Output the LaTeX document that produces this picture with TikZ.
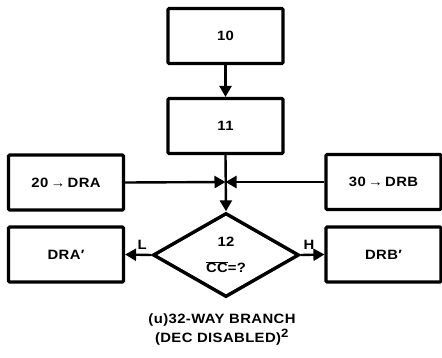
\documentclass[tikz,border=0pt]{standalone}
\usepackage{fontspec}
\setmainfont[FakeStretch=1.1,LetterSpace=3]{Liberation Sans}
\usetikzlibrary{shapes.geometric,arrows.meta}
\begin{document}
\begin{tikzpicture}[x=1pt,y=-1pt,
  txt/.style={font=\bfseries\fontsize{13.5}{16}\selectfont},
  box/.style={draw, line width=3.2pt, rounded corners=1.2pt, minimum width=115pt, minimum height=55pt, inner sep=0pt, txt},
  dec/.style={draw, diamond, line width=3.4pt, minimum width=146pt, minimum height=84pt, inner sep=0pt},
  conn/.style={line width=2.4pt, -{Triangle[length=11pt,width=12pt]}}]
\useasboundingbox (0,0) rectangle (442,357);
\node[box] (n10) at (225.5,36) {10};
\node[box] (n11) at (225.5,126) {11};
\node[box] (n20) at (66,182.5) {20\,→\,DRA};
\node[box] (n30) at (383.5,182) {30\,→\,DRB};
\node[dec] (n12) at (226,255) {};
\node[txt, align=center] (t12) at (226,242) {12};
\node[txt] (tcc) at (226,267) {$\overline{\mbox{CC}}$=?};
\node[box] (dra) at (66,254.5) {DRA′};
\node[box] (drb) at (383.5,254.5) {DRB′};
\coordinate (j) at (225.5,182);
\draw[conn] (n10.south) -- (n11.north);
\draw[conn] (n11.south) -- (n12.north);
\draw[conn] (n20.east) -- (j);
\draw[conn] (n30.west) -- (j);
\draw[conn] (n12.west) -- (dra.east) node[txt, pos=0.35, above=1pt] (lL) {L};
\draw[conn] (n12.east) -- (drb.west) node[txt, pos=0.35, above=1pt] (lH) {H};
\node[txt] (cap1) at (222,320) {(u)32-WAY BRANCH};
\node[txt] (cap2) at (222,337) {(DEC DISABLED)$^{\mbox{\fontsize{12}{14}\selectfont\bfseries 2}}$};
\end{tikzpicture}
\end{document}
